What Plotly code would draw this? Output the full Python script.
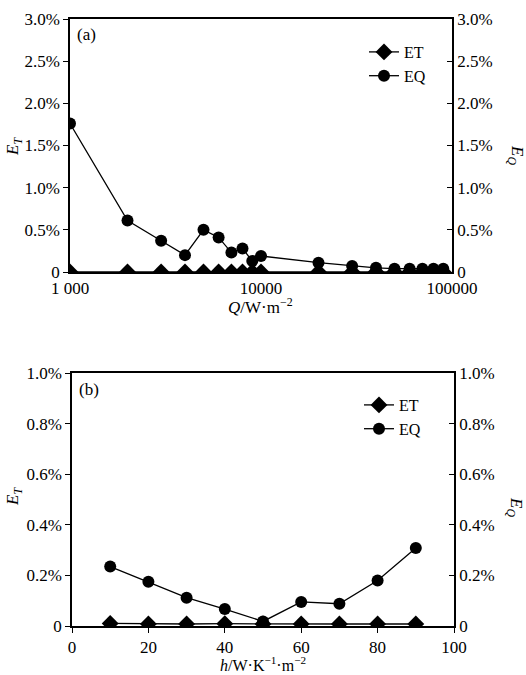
import plotly.graph_objects as go

# Panel (a)
q_values = [1000, 2000, 3000, 4000, 5000, 6000, 7000, 8000, 9000, 10000,
            20000, 30000, 40000, 50000, 60000, 70000, 80000, 90000]
et_a = [0.0] * len(q_values)
eq_a = [1.76, 0.61, 0.37, 0.20, 0.50, 0.41, 0.23, 0.28, 0.13, 0.19,
        0.11, 0.07, 0.05, 0.04, 0.04, 0.04, 0.04, 0.04]

# Panel (b)
h_values = [10, 20, 30, 40, 50, 60, 70, 80, 90]
et_b = [0.010, 0.008, 0.008, 0.009, 0.008, 0.008, 0.008, 0.008, 0.008]
eq_b = [0.235, 0.175, 0.112, 0.067, 0.018, 0.095, 0.088, 0.180, 0.308]

ticks_a = [0, 0.5, 1.0, 1.5, 2.0, 2.5, 3.0]
ticktext_a = ["0", "0.5%", "1.0%", "1.5%", "2.0%", "2.5%", "3.0%"]
ticks_b = [0, 0.2, 0.4, 0.6, 0.8, 1.0]
ticktext_b = ["0", "0.2%", "0.4%", "0.6%", "0.8%", "1.0%"]
xticks_a = [1000, 10000, 100000]
xticktext_a = ["1 000", "10000", "100000"]
xticks_b = [0, 20, 40, 60, 80, 100]

W, H = 526, 675
FONT = "Liberation Serif, Times New Roman, serif"

def px(x):
    return x / W

def py(y):
    return 1 - y / H

fig = go.Figure()

lw = 1.3
fig.add_trace(go.Scatter(x=q_values, y=et_a, name="ET", mode="lines+markers",
                         line=dict(color="black", width=lw),
                         marker=dict(symbol="diamond", size=13, color="black"),
                         xaxis="x", yaxis="y", legend="legend"))
fig.add_trace(go.Scatter(x=q_values, y=eq_a, name="EQ", mode="lines+markers",
                         line=dict(color="black", width=lw),
                         marker=dict(symbol="circle", size=12, color="black"),
                         xaxis="x", yaxis="y2", legend="legend"))
fig.add_trace(go.Scatter(x=h_values, y=et_b, name="ET", mode="lines+markers",
                         line=dict(color="black", width=lw),
                         marker=dict(symbol="diamond", size=13, color="black"),
                         xaxis="x2", yaxis="y3", legend="legend2"))
fig.add_trace(go.Scatter(x=h_values, y=eq_b, name="EQ", mode="lines+markers",
                         line=dict(color="black", width=lw),
                         marker=dict(symbol="circle", size=12, color="black"),
                         xaxis="x2", yaxis="y4", legend="legend2"))

axis_common = dict(showgrid=False, zeroline=False, showline=True,
                   linecolor="black", linewidth=1.5, automargin=False,
                   tickfont=dict(family=FONT, size=17, color="black"),
                   ticklen=5, tickwidth=1.2, tickcolor="black")

fig.update_layout(
    width=W, height=H,
    margin=dict(l=0, r=0, t=0, b=0),
    paper_bgcolor="white", plot_bgcolor="white",
    font=dict(family=FONT, color="black"),
    xaxis=dict(type="log", range=[3, 5], domain=[px(70), px(452)],
               anchor="y", tickvals=xticks_a, ticktext=xticktext_a,
               ticks="", mirror=True, **axis_common),
    yaxis=dict(range=[0, 3.0], domain=[py(272), py(19)], anchor="x",
               tickvals=ticks_a, ticktext=ticktext_a, ticks="outside",
               **axis_common),
    yaxis2=dict(range=[0, 3.0], overlaying="y", side="right", anchor="x",
                tickvals=ticks_a, ticktext=ticktext_a, ticks="inside",
                **axis_common),
    xaxis2=dict(range=[0, 100], domain=[px(72), px(454)], anchor="y3",
                tickvals=xticks_b, ticks="outside", mirror=True,
                **axis_common),
    yaxis3=dict(range=[0, 1.0], domain=[py(626), py(373)], anchor="x2",
                tickvals=ticks_b, ticktext=ticktext_b, ticks="outside",
                **axis_common),
    yaxis4=dict(range=[0, 1.0], overlaying="y3", side="right", anchor="x2",
                tickvals=ticks_b, ticktext=ticktext_b, ticks="inside",
                **axis_common),
    legend=dict(x=px(364), y=py(35), xanchor="left", yanchor="top",
                bgcolor="rgba(0,0,0,0)", font=dict(family=FONT, size=16),
                tracegroupgap=0, itemwidth=30),
    legend2=dict(x=px(359), y=py(388), xanchor="left", yanchor="top",
                 bgcolor="rgba(0,0,0,0)", font=dict(family=FONT, size=16),
                 tracegroupgap=0, itemwidth=30),
    showlegend=True,
)

ann_font = dict(family=FONT, size=17, color="black")
annotations = [
    dict(text="(a)", x=px(75), y=py(34), xanchor="left", yanchor="middle"),
    dict(text="(b)", x=px(77), y=py(390), xanchor="left", yanchor="middle"),
    dict(text="<i>E</i><sub><i>T</i></sub>", x=px(14), y=py(147), textangle=-90,
         xanchor="center", yanchor="middle"),
    dict(text="<i>E</i><sub><i>Q</i></sub>", x=px(516), y=py(155), textangle=90,
         xanchor="center", yanchor="middle"),
    dict(text="<i>E</i><sub><i>T</i></sub>", x=px(14), y=py(497), textangle=-90,
         xanchor="center", yanchor="middle"),
    dict(text="<i>E</i><sub><i>Q</i></sub>", x=px(515), y=py(507), textangle=90,
         xanchor="center", yanchor="middle"),
    dict(text="<i>Q</i>/W·m<sup>−2</sup>", x=px(260), y=py(306),
         xanchor="center", yanchor="middle"),
    dict(text="<i>h</i>/W·K<sup>−1</sup>·m<sup>−2</sup>", x=px(263), y=py(664),
         xanchor="center", yanchor="middle", font_size=16),
]
for a in annotations:
    size = a.pop("font_size", 17)
    a.update(xref="paper", yref="paper", showarrow=False,
             font=dict(family=FONT, size=size, color="black"))
fig.update_layout(annotations=annotations)

fig.write_html("out.html", config={"displayModeBar": False},
               post_script="document.body.style.margin='0';"
                           "document.body.style.overflow='hidden';")
